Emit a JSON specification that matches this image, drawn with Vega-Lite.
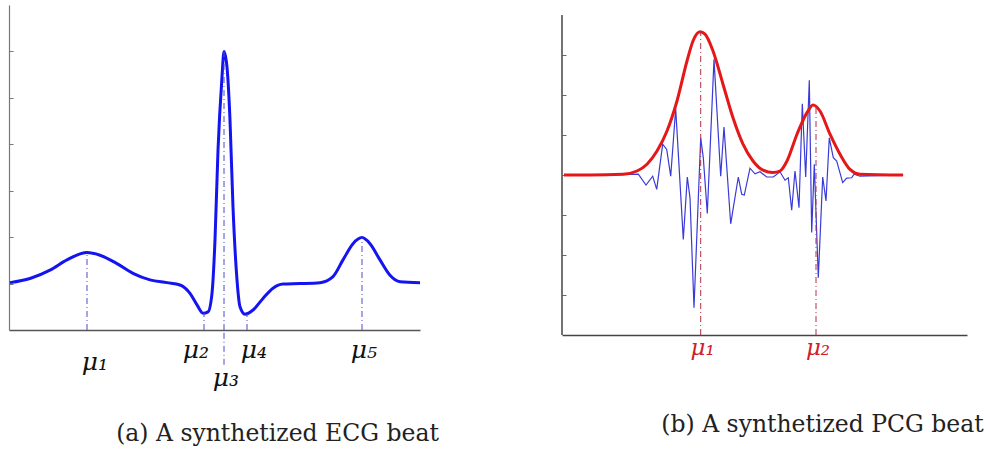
{
  "$schema": "https://vega.github.io/schema/vega-lite/v6.json",
  "padding": {"left": 4, "top": 5, "right": 0, "bottom": 0},
  "autosize": {"type": "pad"},
  "background": "white",
  "bounds": "flush",
  "spacing": 142,
  "config": {
    "view": {"stroke": null},
    "axis": {"grid": false, "title": null, "labels": false}
  },
  "datasets": {
    "ecg": [
      {"t": 1, "v": 1.02}, {"t": 21, "v": 1.11}, {"t": 41, "v": 1.29}, {"t": 58, "v": 1.51},
      {"t": 78, "v": 1.67}, {"t": 91, "v": 1.61}, {"t": 108, "v": 1.43}, {"t": 124, "v": 1.22},
      {"t": 141, "v": 1.08}, {"t": 158, "v": 1.02}, {"t": 171, "v": 0.97}, {"t": 181, "v": 0.79},
      {"t": 188, "v": 0.54}, {"t": 194, "v": 0.36}, {"t": 199, "v": 0.39}, {"t": 203, "v": 0.79},
      {"t": 206, "v": 1.94}, {"t": 209, "v": 3.87}, {"t": 213, "v": 5.45}, {"t": 215, "v": 6.0},
      {"t": 218, "v": 5.66}, {"t": 221, "v": 4.52}, {"t": 224, "v": 2.65}, {"t": 228, "v": 1.08},
      {"t": 231, "v": 0.5}, {"t": 236, "v": 0.34}, {"t": 244, "v": 0.43}, {"t": 254, "v": 0.68},
      {"t": 264, "v": 0.9}, {"t": 274, "v": 0.99}, {"t": 291, "v": 1.0}, {"t": 311, "v": 1.02},
      {"t": 324, "v": 1.15}, {"t": 334, "v": 1.51}, {"t": 344, "v": 1.86}, {"t": 353, "v": 1.99},
      {"t": 361, "v": 1.86}, {"t": 371, "v": 1.51}, {"t": 381, "v": 1.18}, {"t": 391, "v": 1.04},
      {"t": 411, "v": 1.02}
    ],
    "ecgMu": [
      {"name": "μ₁", "t": 78, "v": 1.67},
      {"name": "μ₂", "t": 195, "v": 0.36},
      {"name": "μ₃", "t": 215, "v": 6.0},
      {"name": "μ₄", "t": 238, "v": 0.34},
      {"name": "μ₅", "t": 353, "v": 1.99}
    ],
    "env": [
      {"t": 2, "v": 0}, {"t": 28, "v": 0}, {"t": 61, "v": 0.02}, {"t": 75, "v": 0.1},
      {"t": 85, "v": 0.27}, {"t": 95, "v": 0.6}, {"t": 105, "v": 1.1}, {"t": 115, "v": 1.85},
      {"t": 125, "v": 2.85}, {"t": 131, "v": 3.35}, {"t": 138, "v": 3.58}, {"t": 143, "v": 3.52},
      {"t": 151, "v": 3.1}, {"t": 161, "v": 2.27}, {"t": 171, "v": 1.43}, {"t": 181, "v": 0.77},
      {"t": 191, "v": 0.35}, {"t": 201, "v": 0.12}, {"t": 211, "v": 0.06}, {"t": 218, "v": 0.1},
      {"t": 225, "v": 0.35}, {"t": 235, "v": 1.02}, {"t": 245, "v": 1.56}, {"t": 251, "v": 1.75},
      {"t": 258, "v": 1.6}, {"t": 268, "v": 1.02}, {"t": 278, "v": 0.52}, {"t": 288, "v": 0.14},
      {"t": 298, "v": 0.02}, {"t": 341, "v": 0}
    ],
    "pcg": [
      {"t": 2, "v": 0}, {"t": 44.7, "v": 0}, {"t": 76.3, "v": 0.02}, {"t": 84, "v": -0.25},
      {"t": 90.7, "v": -0.03}, {"t": 94.7, "v": -0.36}, {"t": 100.7, "v": 0.77}, {"t": 104.7, "v": 0.64},
      {"t": 108.7, "v": -0.03}, {"t": 113.7, "v": 1.66}, {"t": 121.3, "v": -1.61}, {"t": 125.3, "v": -0.05},
      {"t": 128, "v": -0.57}, {"t": 132, "v": -3.32}, {"t": 138.7, "v": 0.93}, {"t": 141.3, "v": 0.43},
      {"t": 145.3, "v": -0.96}, {"t": 152, "v": 2.89}, {"t": 158.7, "v": -0.03}, {"t": 162, "v": 1.2},
      {"t": 168.7, "v": -1.22}, {"t": 176.3, "v": -0.05}, {"t": 179.7, "v": -0.48}, {"t": 182.3, "v": -0.5},
      {"t": 188, "v": 0.17}, {"t": 193, "v": 0.03}, {"t": 198, "v": 0.08}, {"t": 204.7, "v": -0.05},
      {"t": 211.3, "v": -0.05}, {"t": 218, "v": 0.08}, {"t": 223, "v": -0.13}, {"t": 226.3, "v": -0.07},
      {"t": 229.7, "v": -0.88}, {"t": 233, "v": 0.1}, {"t": 237, "v": -0.82}, {"t": 240.3, "v": 1.78},
      {"t": 243.7, "v": -0.05}, {"t": 247.3, "v": 2.37}, {"t": 249.7, "v": -1.44}, {"t": 252.3, "v": 0.27},
      {"t": 256.3, "v": -2.57}, {"t": 260.7, "v": -0.05}, {"t": 264, "v": -0.65}, {"t": 267.3, "v": 0.93},
      {"t": 271.3, "v": 0.43}, {"t": 274.7, "v": 0.35}, {"t": 280.7, "v": -0.19}, {"t": 284.7, "v": -0.08},
      {"t": 289.7, "v": -0.07}, {"t": 292, "v": 0.02}, {"t": 298, "v": -0.03}, {"t": 341.3, "v": 0}
    ],
    "pcgMu": [
      {"name": "μ₁", "t": 138.7, "v": 3.58},
      {"name": "μ₂", "t": 254, "v": 1.75}
    ],
    "yEdge": [
      {"t": 0, "lo": -4, "hi": 4}
    ]
  },
  "hconcat": [
    {
      "width": 411,
      "height": 325,
      "title": {"text": "(a) A synthetized ECG beat", "orient": "bottom", "anchor": "middle", "frame": "group", "dx": 63, "offset": 31, "font": "DejaVu Serif", "fontSize": 23.5, "fontWeight": "normal", "color": "#222"},
      "encoding": {
        "x": {"field": "t", "type": "quantitative", "scale": {"domain": [0, 411], "nice": false, "zero": false},
              "axis": {"ticks": false, "domainColor": "#555", "domainWidth": 1.5}},
        "y": {"field": "v", "type": "quantitative", "scale": {"domain": [0, 7], "nice": false},
              "axis": {"values": [1, 2, 3, 4, 5, 6], "tickSize": -4, "tickColor": "#777", "domainColor": "#777", "domainWidth": 1.2}}
      },
      "layer": [
        {
          "data": {"name": "ecg"},
          "mark": {"type": "line", "color": "#1414f0", "strokeWidth": 3, "interpolate": "monotone"}
        },
        {
          "data": {"name": "ecgMu"},
          "mark": {"type": "rule", "color": "#4a4ad0", "strokeWidth": 1, "strokeDash": [6, 3, 1, 3]},
          "encoding": {"y": {"datum": 0}, "y2": {"field": "v"}}
        },
        {
          "data": {"name": "ecgMu"},
          "transform": [{"filter": "datum.name === 'μ₃'"}],
          "mark": {"type": "rule", "color": "#4a4ad0", "strokeWidth": 1, "strokeDash": [6, 3, 1, 3]},
          "encoding": {"y": {"datum": -0.75}, "y2": {"datum": 0}}
        },
        {
          "data": {"name": "ecgMu"},
          "transform": [{"filter": "datum.name === 'μ₁'"}],
          "mark": {"type": "text", "font": "DejaVu Serif", "fontStyle": "italic", "fontSize": 25, "color": "#111", "dx": 8, "baseline": "middle"},
          "encoding": {"y": {"datum": -0.69}, "text": {"field": "name"}}
        },
        {
          "data": {"name": "ecgMu"},
          "transform": [{"filter": "datum.name === 'μ₂'"}],
          "mark": {"type": "text", "font": "DejaVu Serif", "fontStyle": "italic", "fontSize": 25, "color": "#111", "dx": -8, "baseline": "middle"},
          "encoding": {"y": {"datum": -0.43}, "text": {"field": "name"}}
        },
        {
          "data": {"name": "ecgMu"},
          "transform": [{"filter": "datum.name === 'μ₄'"}],
          "mark": {"type": "text", "font": "DejaVu Serif", "fontStyle": "italic", "fontSize": 25, "color": "#111", "dx": 7, "baseline": "middle"},
          "encoding": {"y": {"datum": -0.43}, "text": {"field": "name"}}
        },
        {
          "data": {"name": "ecgMu"},
          "transform": [{"filter": "datum.name === 'μ₅'"}],
          "mark": {"type": "text", "font": "DejaVu Serif", "fontStyle": "italic", "fontSize": 25, "color": "#111", "dx": 2, "baseline": "middle"},
          "encoding": {"y": {"datum": -0.43}, "text": {"field": "name"}}
        },
        {
          "data": {"name": "ecgMu"},
          "transform": [{"filter": "datum.name === 'μ₃'"}],
          "mark": {"type": "text", "font": "DejaVu Serif", "fontStyle": "italic", "fontSize": 25, "color": "#111", "dx": 2, "baseline": "middle"},
          "encoding": {"y": {"datum": -1.03}, "text": {"field": "name"}}
        }
      ]
    },
    {
      "width": 405,
      "height": 330,
      "title": {"text": "(b) A synthetized PCG beat", "orient": "bottom", "anchor": "middle", "frame": "group", "dx": 58, "offset": 53, "font": "DejaVu Serif", "fontSize": 23.5, "fontWeight": "normal", "color": "#222"},
      "encoding": {
        "x": {"field": "t", "type": "quantitative", "scale": {"domain": [0, 405], "nice": false, "zero": false},
              "axis": {"ticks": false, "domainColor": "#444", "domainWidth": 1.5}},
        "y": {"field": "v", "type": "quantitative", "scale": {"domain": [-4, 4.25], "nice": false, "zero": false},
              "axis": {"values": [-3, -2, -1, 0, 1, 2, 3], "tickSize": -4, "tickColor": "#666", "domain": false}}
      },
      "layer": [
        {
          "data": {"name": "yEdge"},
          "mark": {"type": "rule", "color": "#444", "strokeWidth": 1.5},
          "encoding": {"y": {"field": "lo", "type": "quantitative"}, "y2": {"field": "hi"}}
        },
        {
          "data": {"name": "pcg"},
          "mark": {"type": "line", "color": "#3a3ad8", "strokeWidth": 1.2}
        },
        {
          "data": {"name": "env"},
          "mark": {"type": "line", "color": "#e41818", "strokeWidth": 3, "interpolate": "monotone"}
        },
        {
          "data": {"name": "pcgMu"},
          "mark": {"type": "rule", "color": "#b0304a", "strokeWidth": 1, "strokeDash": [6, 3, 1, 3]},
          "encoding": {"y": {"datum": -4}, "y2": {"field": "v"}}
        },
        {
          "data": {"name": "pcgMu"},
          "mark": {"type": "text", "font": "DejaVu Serif", "fontStyle": "italic", "fontSize": 23, "color": "#d0202a", "dx": 2, "baseline": "middle"},
          "encoding": {"y": {"datum": -4.33}, "text": {"field": "name"}}
        }
      ]
    }
  ]
}
